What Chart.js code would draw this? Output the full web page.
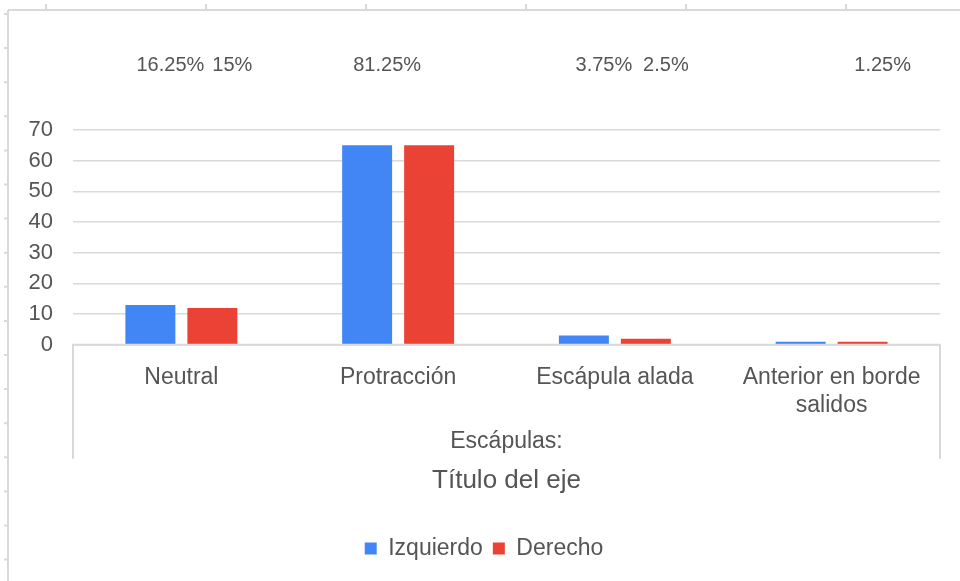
<!DOCTYPE html>
<html>
<head>
<meta charset="utf-8">
<script src="https://cdn.jsdelivr.net/npm/chart.js@4/dist/chart.umd.min.js"></script>
<style>
  html, body { margin: 0; padding: 0; background: #fff; }
  #wrap { width: 960px; height: 581px; }
</style>
</head>
<body>
<div id="wrap"><canvas id="escapulasChart" width="960" height="581"></canvas></div>
<script>
const categories = ["Neutral", "Protracción", "Escápula alada", ["Anterior en borde", "salidos"]];
const izquierdo = [13, 65, 3, 1];
const derecho = [12, 65, 2, 1];
// percentages shown above the plot (80 subjects)
const pctIzquierdo = ["16.25%", "81.25%", "3.75%", ""];
const pctDerecho = ["15%", "", "2.5%", "1.25%"];
const yTicks = [0, 10, 20, 30, 40, 50, 60, 70];

const textColor = "#555555";
const lineColor = "#d9d9d9";
const fontFamily = "'Liberation Sans', Arial, sans-serif";

// page frame with ruler ticks, like the screenshot
const framePlugin = {
    id: "frame",
    beforeDraw(chart) {
        const ctx = chart.ctx;
        ctx.save();
        ctx.strokeStyle = lineColor;
        ctx.lineWidth = 2;
        ctx.beginPath();
        ctx.moveTo(8, 10);
        ctx.lineTo(chart.width, 10);
        ctx.moveTo(8, 10);
        ctx.lineTo(8, chart.height);
        for (let x = 46; x < chart.width; x += 160) {
            ctx.moveTo(x, 4);
            ctx.lineTo(x, 10);
        }
        for (let y = 14; y < chart.height; y += 34.1) {
            ctx.moveTo(4, y);
            ctx.lineTo(8, y);
        }
        ctx.stroke();
        ctx.restore();
    },
    afterDraw(chart) {
        // box around the category axis
        const ctx = chart.ctx;
        const area = chart.chartArea;
        const xScale = chart.scales.x;
        ctx.save();
        ctx.strokeStyle = lineColor;
        ctx.lineWidth = 2;
        ctx.beginPath();
        ctx.moveTo(area.left, xScale.bottom);
        ctx.lineTo(area.left, area.bottom);
        ctx.lineTo(area.right, area.bottom);
        ctx.lineTo(area.right, xScale.bottom);
        ctx.stroke();
        ctx.restore();
    }
};

const pctPlugin = {
    id: "pctLabels",
    afterDatasetsDraw(chart) {
        const ctx = chart.ctx;
        const texts = [pctIzquierdo, pctDerecho];
        ctx.save();
        ctx.fillStyle = textColor;
        ctx.font = "20px " + fontFamily;
        ctx.textAlign = "center";
        ctx.textBaseline = "middle";
        chart.data.datasets.forEach(function (ds, di) {
            chart.getDatasetMeta(di).data.forEach(function (bar, i) {
                if (texts[di][i]) {
                    ctx.fillText(texts[di][i], bar.x + 20, 65);
                }
            });
        });
        ctx.restore();
    }
};

new Chart(document.getElementById("escapulasChart"), {
    type: "bar",
    data: {
        labels: categories,
        datasets: [
            {
                label: "Izquierdo",
                data: izquierdo,
                backgroundColor: "#4285F4",
                categoryPercentage: 0.572,
                barPercentage: 0.806
            },
            {
                label: "Derecho",
                data: derecho,
                backgroundColor: "#EA4335",
                categoryPercentage: 0.572,
                barPercentage: 0.806
            }
        ]
    },
    options: {
        responsive: false,
        animation: false,
        layout: {
            padding: { top: 130, left: 28, right: 20, bottom: 11 }
        },
        scales: {
            y: {
                min: 0,
                max: 70,
                afterBuildTicks: function (scale) {
                    scale.ticks = yTicks.map(v => ({ value: v }));
                },
                afterFit: function (scale) {
                    scale.width = 45;
                },
                border: { display: false },
                grid: { color: lineColor, lineWidth: 1.5, drawTicks: false },
                ticks: {
                    color: textColor,
                    padding: 20,
                    font: { family: fontFamily, size: 22 }
                }
            },
            x: {
                afterFit: function (scale) {
                    scale.height = 114;
                },
                border: { display: false },
                grid: { display: false, drawTicks: false },
                ticks: {
                    color: textColor,
                    padding: 18,
                    maxRotation: 0,
                    font: { family: fontFamily, size: 23, lineHeight: 1.25 }
                },
                title: {
                    display: true,
                    text: "Escápulas:",
                    color: textColor,
                    padding: { top: 0, bottom: 3 },
                    font: { family: fontFamily, size: 23 }
                }
            }
        },
        plugins: {
            title: {
                display: true,
                text: "Título del eje",
                position: "bottom",
                weight: 500,
                fullSize: false,
                color: textColor,
                padding: { top: 6, bottom: 31 },
                font: { family: fontFamily, size: 26, weight: "normal" }
            },
            legend: {
                position: "bottom",
                labels: {
                    color: textColor,
                    boxWidth: 12,
                    boxHeight: 12,
                    padding: 10,
                    font: { family: fontFamily, size: 23 }
                }
            },
            tooltip: { enabled: false }
        }
    },
    plugins: [framePlugin, pctPlugin]
});
</script>
</body>
</html>
